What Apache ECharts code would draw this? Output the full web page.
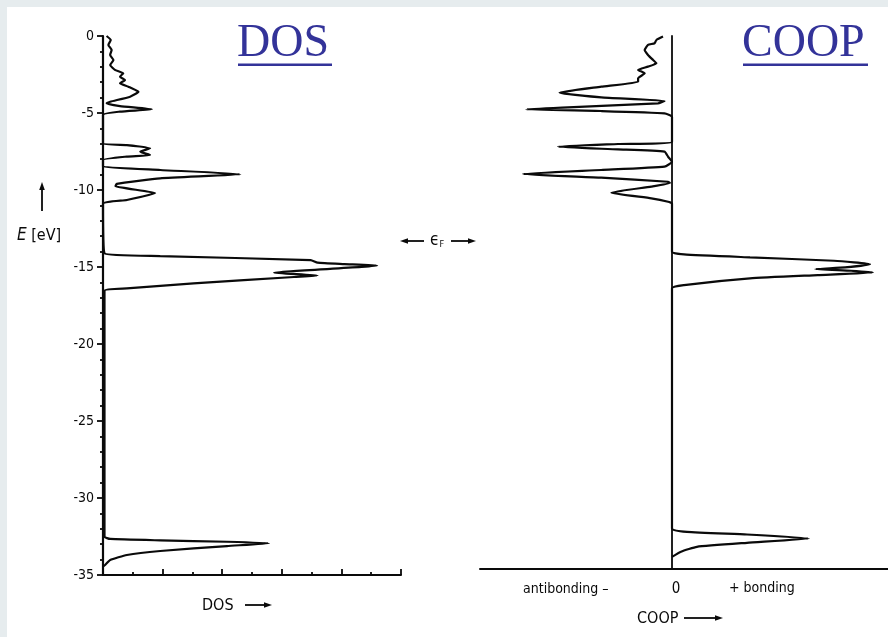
<!DOCTYPE html>
<html>
<head>
<meta charset="utf-8">
<title>DOS and COOP</title>
<script src="https://cdn.jsdelivr.net/npm/echarts@6/dist/echarts.min.js"></script>
<style>
  html, body { margin: 0; padding: 0; background: #e6ecee; }
  #chart { width: 888px; height: 637px; }
</style>
</head>
<body>
<div id="chart"></div>
<script>
// Energy axis tick labels (eV)
const energyTicks = [0, -5, -10, -15, -20, -25, -30, -35];

// Density of states: energy (eV) and DOS value along the curve
const dosEnergy = [
  0.0, -0.26, -0.58, -0.91, -1.23, -1.56, -1.88, -2.2, -2.42, -2.64, -2.86, -3.07,
  -3.29, -3.62, -3.94, -4.27, -4.37, -4.55, -4.76, -4.91, -5.13,
  -6.97, -7.08, -7.29, -7.51, -7.73, -7.83, -8.05,
  -8.48, -8.7, -8.98, -9.24, -9.6, -9.75, -10.2, -10.65, -10.9,
  -14.11, -14.29, -14.55, -14.72, -14.81, -14.91, -15.37, -15.56, -15.65, -16.06, -16.39, -16.54,
  -32.51, -32.66, -32.75, -32.84, -32.94, -33.12, -33.44, -33.7, -34.03, -34.35, -34.45
];
const dosValue = [
  0.12, 0.26, 0.18, 0.29, 0.24, 0.35, 0.24, 0.4, 0.68, 0.57, 0.74, 0.57,
  0.85, 1.19, 0.91, 0.24, 0.12, 0.57, 1.64, 0.57, 0.0,
  0.0, 0.8, 1.58, 1.25, 1.58, 0.8, 0.0,
  0.0, 1.92, 4.61, 1.92, 0.46, 0.42, 1.75, 0.8, 0.0,
  0.05, 1.92, 6.97, 7.2, 8.1, 9.2, 5.74, 7.2, 6.41, 3.04, 0.8, 0.05,
  0.05, 0.24, 1.92, 4.16, 5.57, 4.16, 1.92, 0.8, 0.24, 0.07, 0.0
];

// Crystal orbital overlap population: energy (eV) and COOP value
const coopEnergy = [
  -0.04, -0.26, -0.47, -0.58, -0.91, -1.23, -1.56, -1.77, -1.99, -2.2, -2.42, -2.75, -2.97,
  -3.29, -3.68, -3.98, -4.22, -4.37, -4.63, -4.76, -4.87, -5.02, -5.24,
  -6.86, -7.01, -7.19, -7.36, -7.51, -7.84, -8.17,
  -8.48, -8.7, -8.96, -9.2, -9.46, -9.55, -9.78, -10.17, -10.54, -10.76, -10.87,
  -14.0, -14.18, -14.37, -14.59, -14.81, -15.02, -15.13, -15.24, -15.35, -15.52, -15.73, -16.17, -16.38,
  -31.97, -32.19, -32.36, -32.62, -32.9, -33.16, -33.48, -33.81
];
const coopValue = [
  -0.3, -0.52, -0.58, -0.8, -0.91, -0.8, -0.63, -0.52, -0.8, -1.13, -0.91, -1.13, -1.13,
  -2.36, -3.75, -2.36, -0.25, -0.47, -3.47, -4.86, -2.36, -0.25, 0.0,
  0.0, -1.8, -3.8, -1.8, -0.25, -0.13, 0.0,
  -0.25, -2.36, -4.97, -2.36, -0.13, -0.07, -0.69, -2.02, -0.69, -0.13, 0.0,
  0.0, 0.4, 2.6, 5.4, 6.6, 5.77, 4.77, 5.97, 6.7, 4.86, 2.6, 0.4, 0.0,
  0.0, 0.5, 2.5, 4.56, 2.5, 0.83, 0.3, 0.0
];

const INK = '#0a0a0a';
const SANS = "'DejaVu Sans Condensed', 'Liberation Sans Narrow', 'DejaVu Sans', sans-serif";
const TITLE_BLUE = '#333399';

function arrow(x1, y1, x2, y2) {
  // shaft from (x1,y1) to the head at (x2,y2)
  const dx = x2 - x1, dy = y2 - y1;
  const len = Math.hypot(dx, dy);
  const ux = dx / len, uy = dy / len;
  const hl = 8, hw = 2.8;
  const bx = x2 - ux * hl, by = y2 - uy * hl;
  return [
    { type: 'line', shape: { x1: x1, y1: y1, x2: bx, y2: by },
      style: { stroke: INK, lineWidth: 1.8 } },
    { type: 'polygon', shape: { points: [[x2, y2], [bx - uy * hw, by + ux * hw], [bx + uy * hw, by - ux * hw]] },
      style: { fill: INK } }
  ];
}

const chart = echarts.init(document.getElementById('chart'), null, { renderer: 'canvas' });

const option = {
  backgroundColor: '#e6ecee',
  animation: false,
  grid: [
    { left: 103, top: 36, width: 298, height: 539 },
    { left: 480, top: 36, width: 408, height: 533 }
  ],
  xAxis: [
    {
      gridIndex: 0, type: 'value', min: 0, max: 10, interval: 2,
      axisLine: { onZero: false, lineStyle: { color: INK, width: 2 } },
      axisTick: { inside: true, length: 6, lineStyle: { color: INK, width: 1.8 } },
      minorTick: { show: true, splitNumber: 2, length: 3, lineStyle: { color: INK, width: 1.8 } },
      axisLabel: { show: false },
      splitLine: { show: false },
      minorSplitLine: { show: false }
    },
    {
      gridIndex: 1, type: 'value', min: -6.4, max: 7.2,
      axisLine: { onZero: false, lineStyle: { color: INK, width: 2 } },
      axisTick: { show: false },
      axisLabel: { show: false },
      splitLine: { show: false }
    }
  ],
  yAxis: [
    {
      gridIndex: 0, type: 'value', min: -35, max: 0, interval: 5,
      axisLine: { onZero: false, lineStyle: { color: INK, width: 2.2 } },
      axisTick: { length: 6, lineStyle: { color: INK, width: 1.8 } },
      minorTick: { show: true, splitNumber: 5, length: 3, lineStyle: { color: INK, width: 1.8 } },
      axisLabel: {
        margin: 9, color: INK, fontFamily: SANS, fontSize: 14,
        formatter: function (v) { return energyTicks.indexOf(v) >= 0 ? String(v) : ''; }
      },
      splitLine: { show: false },
      minorSplitLine: { show: false }
    },
    {
      gridIndex: 1, type: 'value', min: -34.6, max: 0,
      axisLine: { onZero: true, lineStyle: { color: INK, width: 1.8 } },
      axisTick: { show: false },
      axisLabel: { show: false },
      splitLine: { show: false }
    }
  ],
  series: [
    {
      name: 'DOS', type: 'line', xAxisIndex: 0, yAxisIndex: 0,
      data: dosEnergy.map(function (e, i) { return [dosValue[i], e]; }),
      symbol: 'none', smooth: 0.15,
      lineStyle: { color: INK, width: 2.2 }
    },
    {
      name: 'COOP', type: 'line', xAxisIndex: 1, yAxisIndex: 1,
      data: coopEnergy.map(function (e, i) { return [coopValue[i], e]; }),
      symbol: 'none', smooth: 0.15,
      lineStyle: { color: INK, width: 2.2 }
    }
  ],
  graphic: [
    { type: 'rect', z: -100, silent: true, shape: { x: 7, y: 7, width: 881, height: 630 }, style: { fill: '#ffffff' } },
    // panel titles
    { type: 'text', x: 237, y: 44, style: { text: 'DOS', font: "46px 'Liberation Serif', serif", fill: TITLE_BLUE, verticalAlign: 'middle', align: 'left' } },
    { type: 'line', shape: { x1: 238, y1: 64.8, x2: 332, y2: 64.8 }, style: { stroke: TITLE_BLUE, lineWidth: 2.6 } },
    { type: 'text', x: 742, y: 44, style: { text: 'COOP', font: "46px 'Liberation Serif', serif", fill: TITLE_BLUE, verticalAlign: 'middle', align: 'left' } },
    { type: 'line', shape: { x1: 743, y1: 64.8, x2: 868, y2: 64.8 }, style: { stroke: TITLE_BLUE, lineWidth: 2.6 } },
    // energy axis name
    { type: 'text', x: 17, y: 236, style: {
        text: '{i|E} [eV]', verticalAlign: 'middle', align: 'left', fill: INK,
        font: '16px ' + SANS,
        rich: { i: { fontStyle: 'italic', fontFamily: SANS, fontSize: 17, fill: INK } } } }
  ]
    .concat(arrow(42, 211, 42, 182))
    // Fermi level marker
    .concat(arrow(424, 241, 400, 241))
    .concat(arrow(451, 241, 476, 241))
    .concat([
      { type: 'text', x: 437, y: 241, style: {
          text: '\u03f5{s|F}', align: 'center', verticalAlign: 'middle', fill: INK,
          font: '17px ' + SANS, rich: { s: { fontSize: 9, fontFamily: SANS, fill: INK, verticalAlign: 'bottom', padding: [7, 0, 0, 0] } } } },
      { type: 'text', x: 202, y: 606, style: { text: 'DOS', font: '16px ' + SANS, fill: INK, verticalAlign: 'middle', align: 'left' } }
    ])
    .concat(arrow(245, 605, 272, 605))
    .concat([
      { type: 'text', x: 523, y: 589, style: { text: 'antibonding \u2013', font: '14px ' + SANS, fill: INK, verticalAlign: 'middle', align: 'left' } },
      { type: 'text', x: 676, y: 589, style: { text: '0', font: '15px ' + SANS, fill: INK, verticalAlign: 'middle', align: 'center' } },
      { type: 'text', x: 729, y: 588, style: { text: '+ bonding', font: '14px ' + SANS, fill: INK, verticalAlign: 'middle', align: 'left' } },
      { type: 'text', x: 637, y: 619, style: { text: 'COOP', font: '16px ' + SANS, fill: INK, verticalAlign: 'middle', align: 'left' } }
    ])
    .concat(arrow(684, 618, 723, 618))
};

chart.setOption(option);
</script>
</body>
</html>
